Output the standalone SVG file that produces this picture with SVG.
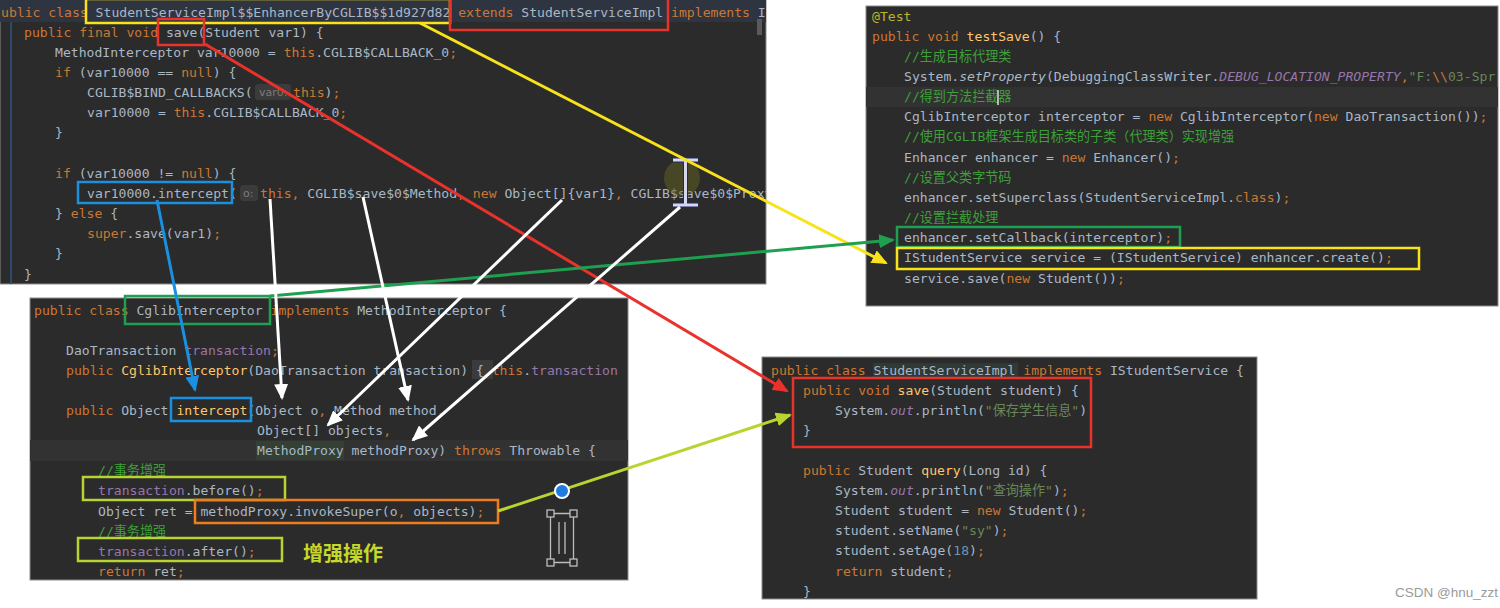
<svg xmlns="http://www.w3.org/2000/svg" width="1500" height="608" viewBox="0 0 1500 608">
<style>
.bg{fill:#2b2b2b;stroke:#8c8c8c;stroke-width:1}
.c{font-family:"DejaVu Sans Mono","Liberation Mono","Noto Sans CJK SC",monospace;font-size:13.1px;fill:#a9b7c6}
.kw{fill:#cc7832}
.fn{fill:#ffc66d}
.fld{fill:#9876aa}
.it{font-style:italic}
.str{fill:#6a8759}
.num{fill:#6897bb}
.cm{fill:#3f9f3a}
.ann{fill:#bbb529}
.hint{font-family:"DejaVu Sans",sans-serif;font-size:11px;fill:#7c7c7c}
.hbox{fill:#3b3b3b}
.box{fill:none;stroke-width:2.5}
.cn{fill:none;stroke-width:3}
</style>
<defs>
<clipPath id="cp1"><rect x="0" y="0" width="766" height="284"/></clipPath>
<clipPath id="cp2"><rect x="866" y="6" width="632" height="300"/></clipPath>
<clipPath id="cp3"><rect x="30" y="298" width="598" height="282"/></clipPath>
<marker id="mRed" viewBox="0 0 16 14" markerWidth="16" markerHeight="14" refX="14" refY="7" orient="auto" markerUnits="userSpaceOnUse"><path d="M0,0 L16,7 L0,14 z" fill="#e8322b"/></marker>
<marker id="mYel" viewBox="0 0 16 14" markerWidth="16" markerHeight="14" refX="14" refY="7" orient="auto" markerUnits="userSpaceOnUse"><path d="M0,0 L16,7 L0,14 z" fill="#f7e21b"/></marker>
<marker id="mGrn" viewBox="0 0 16 14" markerWidth="16" markerHeight="14" refX="14" refY="7" orient="auto" markerUnits="userSpaceOnUse"><path d="M0,0 L16,7 L0,14 z" fill="#1fa051"/></marker>
<marker id="mBlu" viewBox="0 0 16 14" markerWidth="16" markerHeight="14" refX="14" refY="7" orient="auto" markerUnits="userSpaceOnUse"><path d="M0,0 L16,7 L0,14 z" fill="#1b8fe0"/></marker>
<marker id="mWht" viewBox="0 0 16 14" markerWidth="16" markerHeight="14" refX="14" refY="7" orient="auto" markerUnits="userSpaceOnUse"><path d="M0,0 L16,7 L0,14 z" fill="#ffffff"/></marker>
<marker id="mLim" viewBox="0 0 16 14" markerWidth="16" markerHeight="14" refX="14" refY="7" orient="auto" markerUnits="userSpaceOnUse"><path d="M0,0 L16,7 L0,14 z" fill="#b9d431"/></marker>
</defs>
<rect x="0" y="0" width="1500" height="608" fill="#ffffff"/>

<g id="proxy-class">
<rect class="bg" x="0" y="0" width="766" height="284"/>
<g clip-path="url(#cp1)">
<rect x="0" y="0" width="766" height="22" fill="#2f3540"/>
<line x1="11" y1="22" x2="11" y2="284" stroke="#2d4a6e" stroke-width="2"/>
<rect x="757" y="19" width="5" height="16" fill="#5a5a5a"/>
<text class="c" xml:space="preserve" x="1" y="16.5"><tspan class="kw">ublic class </tspan>StudentServiceImpl$$EnhancerByCGLIB$$1d927d82 <tspan class="kw">extends </tspan>StudentServiceImpl <tspan class="kw">implements </tspan>IStudentService</text>
<text class="c" xml:space="preserve" x="24" y="36.6"><tspan class="kw">public final void </tspan>save(Student var1) {</text>
<text class="c" xml:space="preserve" x="55" y="56.8">MethodInterceptor var10000 = <tspan class="kw">this</tspan>.CGLIB$CALLBACK_0<tspan class="kw">;</tspan></text>
<text class="c" xml:space="preserve" x="55" y="77"><tspan class="kw">if </tspan>(var10000 == <tspan class="kw">null</tspan>) {</text>
<text class="c" xml:space="preserve" x="87" y="97.1">CGLIB$BIND_CALLBACKS(</text>
<rect class="hbox" x="255" y="84" width="36" height="16" rx="3"/>
<text class="hint" x="259" y="96">var0:</text>
<text class="c" xml:space="preserve" x="293" y="97.1"><tspan class="kw">this</tspan>)<tspan class="kw">;</tspan></text>
<text class="c" xml:space="preserve" x="87" y="117.3">var10000 = <tspan class="kw">this</tspan>.CGLIB$CALLBACK_0<tspan class="kw">;</tspan></text>
<text class="c" xml:space="preserve" x="55" y="137.4">}</text>
<text class="c" xml:space="preserve" x="55" y="177.7"><tspan class="kw">if </tspan>(var10000 != <tspan class="kw">null</tspan>) {</text>
<text class="c" xml:space="preserve" x="87" y="197.9">var10000.intercept(</text>
<rect class="hbox" x="240" y="185" width="18" height="16" rx="3"/>
<text class="hint" x="243" y="197">o:</text>
<text class="c" xml:space="preserve" x="260" y="197.9"><tspan class="kw">this, </tspan>CGLIB$save$0$Method<tspan class="kw">, new </tspan>Object[]{var1}<tspan class="kw">, </tspan>CGLIB$save$0$Proxy)<tspan class="kw">;</tspan></text>
<text class="c" xml:space="preserve" x="55" y="218">} <tspan class="kw">else </tspan>{</text>
<text class="c" xml:space="preserve" x="87" y="238.2"><tspan class="kw">super</tspan>.save(var1)<tspan class="kw">;</tspan></text>
<text class="c" xml:space="preserve" x="55" y="258.3">}</text>
<text class="c" xml:space="preserve" x="24" y="278.5">}</text>
<circle cx="682" cy="178" r="18" fill="#6b6a20" opacity="0.45"/>
<path d="M673,160 H698 M685.5,160 V205 M673,205 H698" stroke="#1c2a6a" stroke-width="5" fill="none"/>
<path d="M673,160 H698 M685.5,160 V205 M673,205 H698" stroke="#d6d6ee" stroke-width="3" fill="none"/>
</g>
<rect class="box" x="86" y="-1" width="364" height="24" stroke="#f7e21b"/>
<rect class="box" x="450" y="-2" width="218" height="32" stroke="#e8322b"/>
<rect class="box" x="158" y="19" width="46" height="26" stroke="#e8322b"/>
<rect class="box" x="78" y="182" width="154" height="21" stroke="#1b8fe0"/>
</g>

<g id="test-method">
<rect class="bg" x="866" y="6" width="632" height="300"/>
<g clip-path="url(#cp2)">
<rect x="866" y="87" width="632" height="20" fill="#323232"/>
<text class="c" xml:space="preserve" x="872" y="20.5"><tspan class="ann">@Test</tspan></text>
<text class="c" xml:space="preserve" x="872" y="40.7"><tspan class="kw">public void </tspan><tspan class="fn">testSave</tspan>() {</text>
<text class="c cm" xml:space="preserve" x="904" y="60.8">//生成目标代理类</text>
<text class="c" xml:space="preserve" x="904" y="81">System.<tspan class="it">setProperty</tspan>(DebuggingClassWriter.<tspan class="fld it">DEBUG_LOCATION_PROPERTY</tspan><tspan class="kw">,</tspan><tspan class="str">"F:</tspan><tspan class="kw">\\</tspan><tspan class="str">03-Spr</tspan></text>
<text class="c cm" xml:space="preserve" x="904" y="101.1">//得到方法拦截器</text>
<line x1="998" y1="90" x2="998" y2="105" stroke="#e0e0e0" stroke-width="1.5"/>
<text class="c" xml:space="preserve" x="904" y="121.3">CglibInterceptor interceptor = <tspan class="kw">new </tspan>CglibInterceptor(<tspan class="kw">new </tspan>DaoTransaction())<tspan class="kw">;</tspan></text>
<text class="c cm" xml:space="preserve" x="904" y="141.4">//使用CGLIB框架生成目标类的子类（代理类）实现增强</text>
<text class="c" xml:space="preserve" x="904" y="161.6">Enhancer enhancer = <tspan class="kw">new </tspan>Enhancer()<tspan class="kw">;</tspan></text>
<text class="c cm" xml:space="preserve" x="904" y="181.7">//设置父类字节码</text>
<text class="c" xml:space="preserve" x="904" y="201.9">enhancer.setSuperclass(StudentServiceImpl.<tspan class="kw">class</tspan>)<tspan class="kw">;</tspan></text>
<text class="c cm" xml:space="preserve" x="904" y="222">//设置拦截处理</text>
<text class="c" xml:space="preserve" x="904" y="242.2">enhancer.setCallback(interceptor)<tspan class="kw">;</tspan></text>
<text class="c" xml:space="preserve" x="904" y="262.3">IStudentService service = (IStudentService) enhancer.create()<tspan class="kw">;</tspan></text>
<text class="c" xml:space="preserve" x="904" y="282.5">service.save(<tspan class="kw">new </tspan>Student())<tspan class="kw">;</tspan></text>
</g>
<rect class="box" x="897" y="227" width="283" height="20" stroke="#1fa051"/>
<rect class="box" x="897" y="248" width="522" height="21" stroke="#f7e21b"/>
</g>

<g id="cglib-interceptor">
<rect class="bg" x="30" y="298" width="598" height="282"/>
<g clip-path="url(#cp3)">
<rect x="30" y="440" width="598" height="21" fill="#323232"/>
<rect x="256" y="441" width="88" height="19" fill="#334033"/>
<rect x="472" y="360" width="21" height="19" fill="#3b3b3b"/>
<text class="c" xml:space="preserve" x="34" y="314.5"><tspan class="kw">public class </tspan>CglibInterceptor <tspan class="kw">implements </tspan>MethodInterceptor {</text>
<text class="c" xml:space="preserve" x="66" y="354.7">DaoTransaction <tspan class="fld">transaction</tspan><tspan class="kw">;</tspan></text>
<text class="c" xml:space="preserve" x="66" y="374.8"><tspan class="kw">public </tspan><tspan class="fn">CglibInterceptor</tspan>(DaoTransaction transaction) { <tspan class="kw">this</tspan>.<tspan class="fld">transaction</tspan></text>
<text class="c" xml:space="preserve" x="66" y="415"><tspan class="kw">public </tspan>Object <tspan class="fn">intercept</tspan>(Object o<tspan class="kw">, </tspan>Method method<tspan class="kw">,</tspan></text>
<text class="c" xml:space="preserve" x="257" y="435.1">Object[] objects<tspan class="kw">,</tspan></text>
<text class="c" xml:space="preserve" x="257" y="455.2">MethodProxy methodProxy) <tspan class="kw">throws </tspan>Throwable {</text>
<text class="c cm" xml:space="preserve" x="98" y="475.3">//事务增强</text>
<text class="c" xml:space="preserve" x="98" y="495.4"><tspan class="fld">transaction</tspan>.before()<tspan class="kw">;</tspan></text>
<text class="c" xml:space="preserve" x="98" y="515.5">Object ret = methodProxy.invokeSuper(o<tspan class="kw">, </tspan>objects)<tspan class="kw">;</tspan></text>
<text class="c cm" xml:space="preserve" x="98" y="535.6">//事务增强</text>
<text class="c" xml:space="preserve" x="98" y="555.7"><tspan class="fld">transaction</tspan>.after()<tspan class="kw">;</tspan></text>
<text class="c" xml:space="preserve" x="98" y="575.8"><tspan class="kw">return </tspan>ret<tspan class="kw">;</tspan></text>
<text x="303" y="561" font-family="Noto Sans CJK SC, sans-serif" font-size="20" font-weight="bold" fill="#c6d92a">增强操作</text>
<g fill="none" stroke="#bdbdbd" stroke-width="1.3">
<rect x="547" y="510" width="7" height="7"/><rect x="570" y="510" width="7" height="7"/>
<rect x="547" y="559" width="7" height="7"/><rect x="570" y="559" width="7" height="7"/>
<path d="M554,513.5 H570 M554,562.5 H570 M550.5,517 V559 M573.5,517 V559 M559,522 V554 M565,522 V554"/>
</g>
</g>
<rect class="box" x="125" y="296" width="145" height="28" stroke="#1fa051"/>
<rect class="box" x="171" y="398" width="80" height="23" stroke="#1b8fe0"/>
<rect class="box" x="83" y="477" width="202" height="23" stroke="#b9d431"/>
<rect class="box" x="195" y="500" width="303" height="23" stroke="#f07c1e"/>
<rect class="box" x="78" y="538" width="204" height="23" stroke="#b9d431"/>
</g>

<g id="student-service-impl">
<rect class="bg" x="762" y="357" width="495" height="242"/>
<rect x="873" y="363" width="145" height="15" fill="#2f3a36"/>
<text class="c" xml:space="preserve" x="771" y="374.5"><tspan class="kw">public class </tspan>StudentServiceImpl <tspan class="kw">implements </tspan>IStudentService {</text>
<text class="c" xml:space="preserve" x="803" y="394.6"><tspan class="kw">public void </tspan><tspan class="fn">save</tspan>(Student student) {</text>
<text class="c" xml:space="preserve" x="835" y="414.7">System.<tspan class="fld it">out</tspan>.println(<tspan class="str">"保存学生信息"</tspan>)</text>
<text class="c" xml:space="preserve" x="803" y="434.8">}</text>
<text class="c" xml:space="preserve" x="803" y="475"><tspan class="kw">public </tspan>Student <tspan class="fn">query</tspan>(Long id) {</text>
<text class="c" xml:space="preserve" x="835" y="495.1">System.<tspan class="fld it">out</tspan>.println(<tspan class="str">"查询操作"</tspan>)<tspan class="kw">;</tspan></text>
<text class="c" xml:space="preserve" x="835" y="515.2">Student student = <tspan class="kw">new </tspan>Student()<tspan class="kw">;</tspan></text>
<text class="c" xml:space="preserve" x="835" y="535.3">student.setName(<tspan class="str">"sy"</tspan>)<tspan class="kw">;</tspan></text>
<text class="c" xml:space="preserve" x="835" y="555.4">student.setAge(<tspan class="num">18</tspan>)<tspan class="kw">;</tspan></text>
<text class="c" xml:space="preserve" x="835" y="575.5"><tspan class="kw">return </tspan>student<tspan class="kw">;</tspan></text>
<text class="c" xml:space="preserve" x="803" y="595.6">}</text>
<rect class="box" x="793" y="378" width="298" height="69" stroke="#e8322b"/>
</g>

<g id="connectors">
<line class="cn" x1="420" y1="23" x2="886" y2="263" stroke="#f7e21b" marker-end="url(#mYel)"/>
<line class="cn" x1="205" y1="44" x2="787" y2="391" stroke="#e8322b" marker-end="url(#mRed)"/>
<line class="cn" x1="270" y1="296" x2="893" y2="240" stroke="#1fa051" marker-end="url(#mGrn)"/>
<line class="cn" x1="157" y1="200" x2="195" y2="390" stroke="#1b8fe0" marker-end="url(#mBlu)"/>
<line class="cn" x1="270" y1="199" x2="282" y2="398" stroke="#ffffff" marker-end="url(#mWht)"/>
<line class="cn" x1="363" y1="197" x2="408" y2="400" stroke="#ffffff" marker-end="url(#mWht)"/>
<line class="cn" x1="562" y1="200" x2="328" y2="425" stroke="#ffffff" marker-end="url(#mWht)"/>
<line class="cn" x1="680" y1="207" x2="413" y2="440" stroke="#ffffff" marker-end="url(#mWht)"/>
<line class="cn" x1="498" y1="511" x2="790" y2="415" stroke="#b9d431" marker-end="url(#mLim)"/>
<circle cx="562" cy="491" r="7" fill="#1e7be0" stroke="#ffffff" stroke-width="2"/>
</g>

<text x="1395" y="597" font-family="Liberation Sans, Arial, sans-serif" font-size="13.5" fill="#9a9a9a">CSDN @hnu_zzt</text>
</svg>
